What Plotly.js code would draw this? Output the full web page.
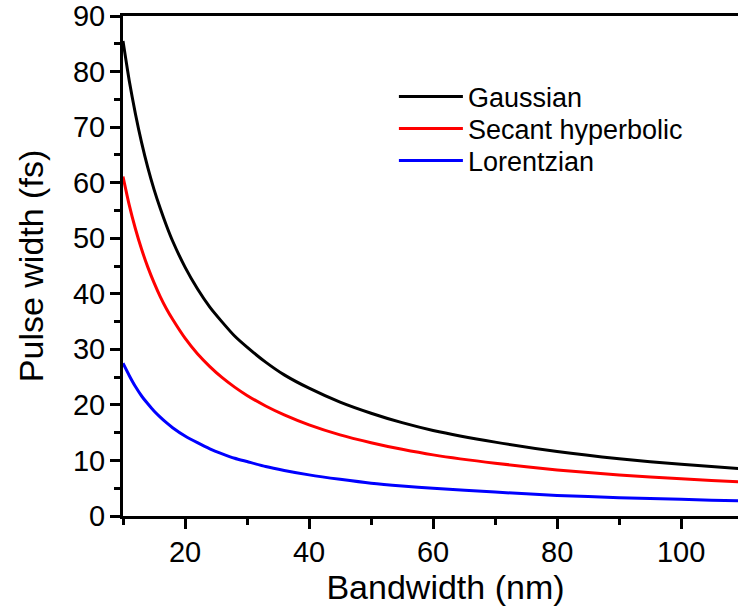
<!DOCTYPE html>
<html>
<head>
<meta charset="utf-8">
<script src="https://cdn.plot.ly/plotly-3.0.1.min.js"></script>
<style>
html, body { margin: 0; padding: 0; overflow: hidden; background: #fff; }
#chart { width: 768px; height: 610px; }
</style>
</head>
<body>
<div id="chart"></div>
<script>
// Bandwidth (nm)
const bandwidth = [10, 11, 12, 13, 14, 15, 16, 17, 18, 20, 22, 24, 26, 28, 30, 33, 36, 40, 45, 50, 55, 60, 70, 80, 90, 100, 110, 114];
// Pulse width (fs)
const gaussian = [85.5, 78.4, 72.4, 67.2, 62.7, 58.8, 55.4, 52.3, 49.5, 44.8, 40.9, 37.6, 34.9, 32.4, 30.4, 27.7, 25.4, 23.0, 20.5, 18.5, 16.8, 15.4, 13.3, 11.6, 10.3, 9.3, 8.5, 8.2];
const secantHyperbolic = [61.1, 56.0, 51.7, 48.0, 44.8, 42.0, 39.5, 37.3, 35.4, 32.0, 29.2, 26.9, 24.9, 23.2, 21.7, 19.8, 18.2, 16.4, 14.6, 13.2, 12.0, 11.0, 9.5, 8.3, 7.4, 6.7, 6.1, 5.8];
const lorentzian = [27.5, 25.3, 23.3, 21.6, 20.2, 18.9, 17.8, 16.8, 15.9, 14.4, 13.2, 12.1, 11.2, 10.4, 9.8, 8.9, 8.2, 7.4, 6.6, 5.9, 5.4, 5.0, 4.3, 3.7, 3.3, 3.0, 2.7, 2.6];

const seriesNames = ["Gaussian", "Secant hyperbolic", "Lorentzian"];
const seriesColors = ["#000000", "#ff0000", "#0000ff"];
const seriesValues = [gaussian, secantHyperbolic, lorentzian];
const legendIds = ["legend", "legend2", "legend3"];

const traces = seriesValues.map((vals, i) => ({
  x: bandwidth,
  y: vals,
  type: "scatter",
  mode: "lines",
  name: seriesNames[i],
  legend: legendIds[i],
  line: { color: seriesColors[i], width: 3, shape: "spline", smoothing: 0.6 }
}));

const FONT = "Liberation Sans, Arial, sans-serif";

function legendAt(yPaper) {
  return {
    x: 0.42, y: yPaper, xanchor: "left", yanchor: "middle",
    font: { family: FONT, size: 27, color: "#000" },
    bgcolor: "rgba(0,0,0,0)",
    itemwidth: 64
  };
}

const layout = {
  width: 768,
  height: 610,
  margin: { l: 123, r: 0, t: 16, b: 94 },
  paper_bgcolor: "#fff",
  plot_bgcolor: "#fff",
  font: { family: FONT, color: "#000" },
  showlegend: true,
  legend: legendAt(0.838),
  legend2: legendAt(0.774),
  legend3: legendAt(0.710),
  xaxis: {
    range: [10, 114],
    tick0: 0, dtick: 20,
    ticks: "outside", ticklen: 10, tickwidth: 3, tickcolor: "#000",
    minor: { dtick: 10, ticks: "outside", ticklen: 6, tickwidth: 3, tickcolor: "#000" },
    showline: true, linewidth: 3, linecolor: "#000", mirror: true,
    showgrid: false, zeroline: false,
    ticklabelstandoff: -2,
    tickfont: { family: FONT, size: 29, color: "#000" },
    title: { text: "Bandwidth (nm)", font: { family: FONT, size: 34, color: "#000" }, standoff: 8 }
  },
  yaxis: {
    range: [0, 90],
    tick0: 0, dtick: 10,
    ticks: "outside", ticklen: 10, tickwidth: 3, tickcolor: "#000",
    minor: { dtick: 5, ticks: "outside", ticklen: 6, tickwidth: 3, tickcolor: "#000" },
    showline: true, linewidth: 3, linecolor: "#000", mirror: false,
    showgrid: false, zeroline: false,
    ticklabelstandoff: -1,
    tickfont: { family: FONT, size: 29, color: "#000" },
    title: { text: "Pulse width (fs)", font: { family: FONT, size: 34, color: "#000" }, standoff: 20 }
  }
};

Plotly.newPlot("chart", traces, layout, { displayModeBar: false, staticPlot: true });
</script>
</body>
</html>
